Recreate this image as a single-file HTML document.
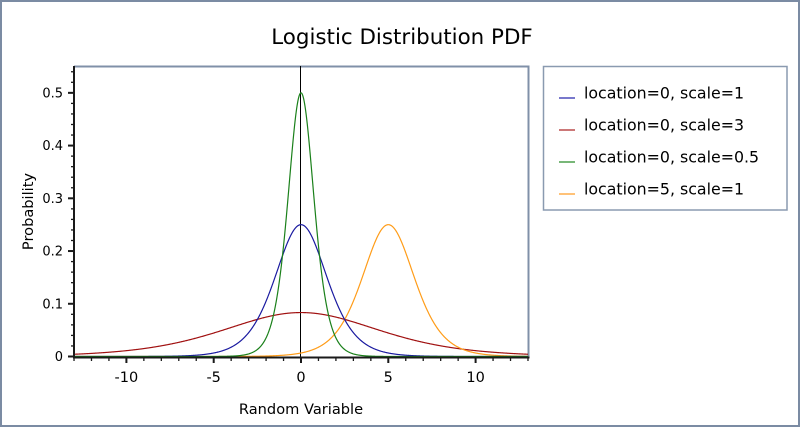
<!DOCTYPE html>
<html>
<head>
<meta charset="utf-8">
<style>
  html, body { margin: 0; padding: 0; background: #ffffff; }
  svg { display: block; }
  text { font-family: "DejaVu Sans", "Liberation Sans", sans-serif; fill: #000; }
</style>
</head>
<body>
<svg id="chart" width="800" height="427" viewBox="0 0 800 427" xmlns="http://www.w3.org/2000/svg">
  <rect x="1" y="1" width="798" height="425" fill="#ffffff" stroke="#7b8ba3" stroke-width="2"/>

  <!-- Title -->
  <text x="402" y="44" font-size="21.4" text-anchor="middle">Logistic Distribution PDF</text>

  <!-- Plot frame (top & right) -->
  <line x1="74" y1="66.5" x2="529.5" y2="66.5" stroke="#8090a8" stroke-width="2"/>
  <line x1="528.5" y1="66" x2="528.5" y2="357" stroke="#8090a8" stroke-width="2"/>

  <!-- zero vertical line -->
  <line x1="300.5" y1="66" x2="300.5" y2="357" stroke="#000" stroke-width="1"/>

  <!-- curves -->
  <g id="curves" fill="none" stroke-width="1.2"></g>

  <!-- axes -->
  <line x1="74" y1="66" x2="74" y2="358.5" stroke="#1a1a1a" stroke-width="2"/>
  <line x1="73" y1="357.5" x2="529.5" y2="357.5" stroke="#1a1a1a" stroke-width="2"/>
  <g id="ticks" stroke="#1a1a1a"></g>
  <g id="ticklabels"></g>

  <!-- axis titles -->
  <text x="301" y="414" font-size="14.6" text-anchor="middle">Random Variable</text>
  <text transform="translate(33,211.5) rotate(-90)" font-size="14.6" text-anchor="middle">Probability</text>

  <!-- legend -->
  <rect x="543.5" y="66.5" width="243.5" height="143.5" fill="#ffffff" stroke="#8a9ab0" stroke-width="1.5"/>
  <line x1="559" y1="98" x2="575" y2="98" stroke="#3030b0" stroke-width="1.3"/>
  <text x="584" y="98.3" font-size="15.8">location=0, scale=1</text>
  <line x1="559" y1="130" x2="575" y2="130" stroke="#b03030" stroke-width="1.3"/>
  <text x="584" y="130.5" font-size="15.8">location=0, scale=3</text>
  <line x1="559" y1="162" x2="575" y2="162" stroke="#309030" stroke-width="1.3"/>
  <text x="584" y="162.5" font-size="15.8">location=0, scale=0.5</text>
  <line x1="559" y1="194" x2="575" y2="194" stroke="#ffa030" stroke-width="1.3"/>
  <text x="584" y="194.5" font-size="15.8">location=5, scale=1</text>
</svg>
<script>
(function(){
  var NS = "http://www.w3.org/2000/svg";
  function px(x){ return 301 + x * 17.46; }
  function py(y){ return 356.5 - y * 527.3; }
  function pdf(x, m, s){ var e = Math.exp(-(x - m) / s); return e / (s * (1 + e) * (1 + e)); }
  var series = [
    {m:0, s:3, c:"#a01010"},
    {m:5, s:1, c:"#ff9c18"},
    {m:0, s:1, c:"#1a1aa0"},
    {m:0, s:0.5, c:"#1a801a"}
  ];
  var g = document.getElementById("curves");
  series.forEach(function(sr){
    var d = "";
    for (var i = 0; i <= 1040; i++) {
      var x = -13 + i * 26 / 1040;
      var X = px(x), Y = py(pdf(x, sr.m, sr.s));
      d += (i === 0 ? "M" : "L") + X.toFixed(2) + "," + Y.toFixed(2);
    }
    var p = document.createElementNS(NS, "path");
    p.setAttribute("d", d);
    p.setAttribute("stroke", sr.c);
    g.appendChild(p);
  });
  var t = document.getElementById("ticks");
  var tl = document.getElementById("ticklabels");
  function line(x1,y1,x2,y2,w){
    var l = document.createElementNS(NS, "line");
    l.setAttribute("x1",x1); l.setAttribute("y1",y1);
    l.setAttribute("x2",x2); l.setAttribute("y2",y2);
    l.setAttribute("stroke-width", w);
    t.appendChild(l);
  }
  function text(x,y,s,size,anchor){
    var e = document.createElementNS(NS, "text");
    e.setAttribute("x",x); e.setAttribute("y",y);
    e.setAttribute("font-size",size);
    e.setAttribute("text-anchor",anchor);
    e.textContent = s;
    tl.appendChild(e);
  }
  // x ticks
  for (var v = -13; v <= 13; v++) {
    var X = px(v);
    if (v % 5 === 0) {
      line(X, 358, X, 363, 2);
      text(X, 382, String(v), 14.5, "middle");
    } else {
      line(X, 358, X, 361, 1.3);
    }
  }
  // y ticks
  for (var k = 0; k <= 27; k++) {
    var yv = k * 0.02;
    var Y = py(yv);
    if (k % 5 === 0) {
      line(68, Y, 74, Y, 2);
      var lbl = (k === 0) ? "0" : (yv.toFixed(1));
      text(63, Y + 4.5, lbl, 13, "end");
    } else {
      line(71, Y, 74, Y, 1.3);
    }
  }
})();
</script>
</body>
</html>
